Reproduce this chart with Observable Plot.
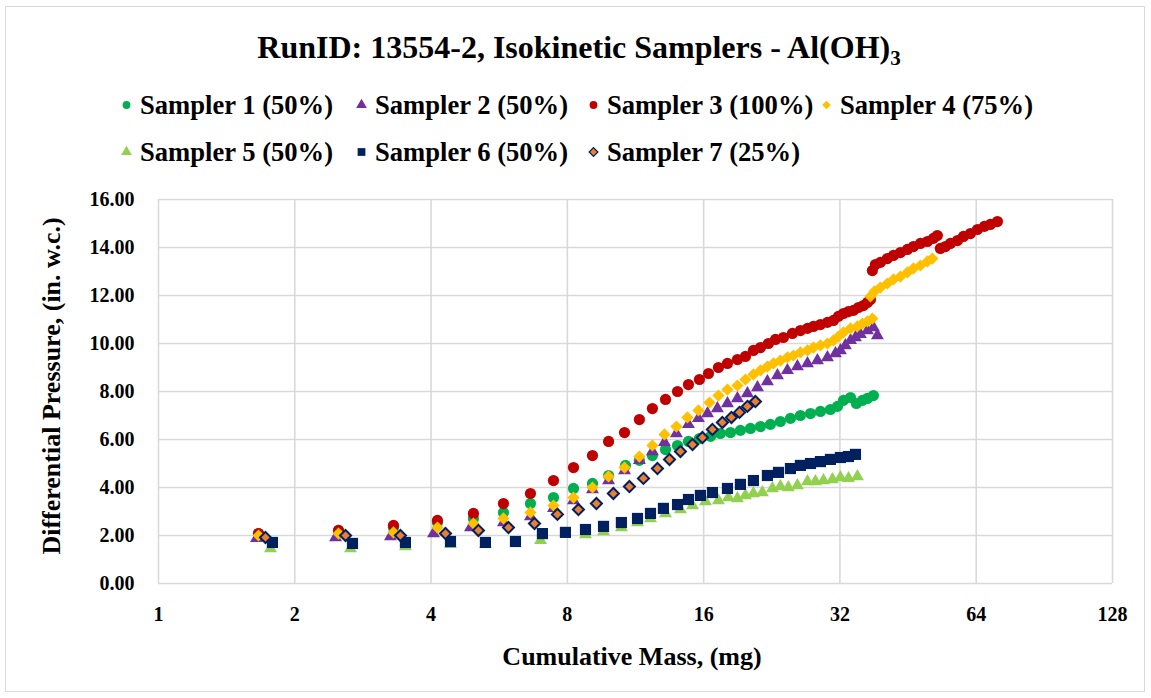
<!DOCTYPE html>
<html><head><meta charset="utf-8">
<script src="https://cdn.jsdelivr.net/npm/d3@7"></script>
<script src="https://cdn.jsdelivr.net/npm/@observablehq/plot@0.6"></script>
<style>
body{margin:0;background:#fff;font-family:"Liberation Serif","Times New Roman",serif;font-weight:bold;color:#000}
#wrap{position:relative;width:1151px;height:698px;overflow:hidden;background:#fff}
#border{position:absolute;left:5px;top:6px;width:1138px;height:684px;border:1px solid #d9d9d9}
#title{position:absolute;left:0;top:27px;width:1158px;text-align:center;font-size:32px;line-height:40px;white-space:nowrap}
#title sub{font-size:21px;vertical-align:-7px;line-height:0}
.leg{position:absolute;display:flex;align-items:center;font-size:26.6px;line-height:30px;white-space:nowrap}
.leg svg{margin-right:8px;flex:none}
#chart{position:absolute;left:0;top:170px}
#ytitle{position:absolute;left:52px;top:386px;transform:translate(-50%,-50%) rotate(-90deg);font-size:26px;white-space:nowrap}
#xtitle{position:absolute;left:632px;top:657px;transform:translate(-50%,-50%);font-size:26px;white-space:nowrap}
</style></head>
<body>
<div id="wrap">
  <div id="border"></div>
  <div id="title">RunID: 13554-2, Isokinetic Samplers - Al(OH)<sub>3</sub></div>
  <div id="legend"></div>
  <div id="chart"></div>
  <div id="ytitle">Differential Pressure, (in. w.c.)</div>
  <div id="xtitle">Cumulative Mass, (mg)</div>
</div>
<script>
const xTicks = [1, 2, 4, 8, 16, 32, 64, 128];
const yTicks = [0, 2, 4, 6, 8, 10, 12, 14, 16];

const sampler1 = [[1.663,2.08],[2.498,2.21],[3.304,2.33],[4.132,2.54],[4.962,2.71],[5.78,2.96],[6.63,3.33],[7.455,3.58],[8.253,3.96],[9.09,4.17],[9.865,4.5],[10.75,4.92],[11.54,5.13],[12.33,5.33],[13.18,5.58],[14.01,5.75],[14.81,5.92],[15.66,6.04],[16.57,6.13],[17.42,6.25],[18.34,6.29],[19.29,6.38],[20.3,6.46],[21.36,6.54],[22.47,6.63],[23.64,6.75],[24.88,6.88],[26.17,7.0],[27.55,7.08],[28.98,7.17],[30.49,7.25],[31.6,7.38],[32.58,7.63],[33.77,7.75],[34.8,7.5],[35.87,7.63],[36.8,7.71],[37.94,7.83]];

const sampler2 = [[1.646,1.88],[2.461,1.92],[3.254,1.96],[4.05,2.08],[4.887,2.33],[5.78,2.54],[6.63,2.79],[7.455,3.13],[8.253,3.46],[9.09,3.92],[9.865,4.29],[10.7,4.71],[11.54,5.13],[12.33,5.5],[13.11,5.88],[13.93,6.25],[14.81,6.63],[15.58,6.88],[16.32,7.08],[17.16,7.29],[18.06,7.5],[19.0,7.71],[19.99,7.92],[21.04,8.17],[22.13,8.42],[23.29,8.67],[24.5,8.88],[25.78,9.04],[27.13,9.17],[28.54,9.29],[30.03,9.42],[31.28,9.58],[32.08,9.71],[32.9,9.92],[33.77,10.13],[34.63,10.25],[35.51,10.38],[36.8,10.54],[37.94,10.67],[38.72,10.33]];

const sampler3 = [[1.663,2.08],[2.498,2.21],[3.304,2.42],[4.132,2.63],[4.962,2.92],[5.78,3.33],[6.63,3.75],[7.455,4.29],[8.253,4.83],[9.09,5.33],[9.865,5.92],[10.7,6.29],[11.54,6.83],[12.33,7.29],[13.18,7.67],[14.01,8.0],[14.81,8.29],[15.66,8.5],[16.4,8.75],[17.25,9.0],[18.06,9.17],[19.0,9.33],[19.79,9.46],[20.61,9.71],[21.36,9.83],[22.24,10.0],[23.06,10.17],[24.0,10.25],[25.13,10.42],[26.17,10.54],[27.13,10.63],[27.97,10.71],[28.98,10.79],[30.03,10.88],[30.96,10.96],[31.75,11.13],[32.58,11.25],[33.42,11.33],[34.29,11.38],[35.16,11.5],[36.05,11.58],[36.8,11.71],[37.37,11.83],[37.74,13.04],[38.33,13.29],[39.31,13.38],[40.73,13.54],[42.01,13.67],[43.53,13.79],[45.1,13.92],[46.5,14.04],[48.19,14.17],[49.93,14.25],[51.47,14.38],[52.52,14.5],[53.33,13.96],[54.72,14.04],[56.14,14.17],[58.17,14.29],[59.97,14.46],[62.13,14.58],[64.4,14.75],[66.71,14.88],[68.78,14.96],[71.29,15.08]];

const sampler4 = [[1.663,2.0],[2.498,2.08],[3.304,2.13],[4.132,2.33],[4.962,2.5],[5.78,2.71],[6.63,2.96],[7.455,3.25],[8.253,3.58],[9.09,4.0],[9.865,4.46],[10.7,4.83],[11.54,5.29],[12.33,5.75],[13.11,6.21],[13.93,6.54],[14.73,6.92],[15.58,7.21],[16.48,7.54],[17.25,7.83],[18.06,8.08],[19.0,8.25],[19.79,8.5],[20.61,8.71],[21.36,8.88],[22.13,9.04],[22.82,9.17],[23.64,9.29],[24.5,9.42],[25.26,9.5],[26.17,9.63],[27.13,9.71],[27.97,9.83],[28.98,9.92],[30.03,10.0],[30.96,10.13],[31.75,10.29],[32.58,10.46],[33.77,10.63],[34.98,10.71],[35.87,10.83],[36.8,10.92],[37.74,11.04],[37.37,11.96],[38.14,12.17],[39.31,12.33],[40.73,12.5],[42.01,12.67],[43.53,12.79],[45.1,12.96],[46.5,13.13],[48.19,13.25],[49.93,13.42],[51.2,13.54]];

const sampler5 = [[1.768,1.46],[2.655,1.46],[3.511,1.54],[4.415,1.63],[5.274,1.63],[6.98,1.8],[8.772,2.04],[9.615,2.17],[10.53,2.33],[11.43,2.54],[12.21,2.71],[13.18,2.92],[14.22,3.08],[15.12,3.25],[16.15,3.42],[17.25,3.46],[18.15,3.58],[19.0,3.54],[19.79,3.67],[20.61,3.75],[21.57,3.79],[22.7,3.96],[23.64,4.04],[24.62,4.0],[25.78,4.08],[27.13,4.25],[28.25,4.25],[29.43,4.29],[30.8,4.33],[32.08,4.42],[33.42,4.38],[34.98,4.46]];

const sampler6 = [[1.785,1.71],[2.682,1.67],[3.511,1.71],[4.415,1.75],[5.274,1.71],[6.144,1.75],[7.047,2.08],[7.922,2.13],[8.772,2.25],[9.615,2.38],[10.53,2.54],[11.43,2.71],[12.21,2.92],[13.04,3.13],[14.01,3.29],[14.81,3.5],[15.74,3.67],[16.73,3.79],[18.06,3.96],[19.29,4.13],[20.61,4.29],[22.13,4.5],[23.41,4.63],[24.88,4.79],[26.17,4.92],[27.55,5.0],[28.98,5.08],[30.49,5.17],[32.08,5.25],[33.42,5.29],[34.63,5.38]];

const sampler7 = [[1.723,1.92],[2.589,2.0],[3.423,2.0],[4.304,2.08],[5.09,2.21],[5.93,2.33],[6.769,2.5],[7.606,2.88],[8.464,3.08],[9.275,3.33],[10.11,3.75],[10.97,4.04],[11.78,4.38],[12.65,4.79],[13.45,5.17],[14.22,5.5],[15.12,5.79],[15.9,6.08],[16.73,6.42],[17.6,6.71],[18.43,6.92],[19.2,7.13],[19.99,7.38],[20.82,7.58]];

const seriesNames = ["Sampler 1 (50%)","Sampler 2 (50%)","Sampler 3 (100%)","Sampler 4 (75%)","Sampler 5 (50%)","Sampler 6 (50%)","Sampler 7 (25%)"];
const seriesData = [sampler1, sampler2, sampler3, sampler4, sampler5, sampler6, sampler7];
const seriesFill = ["#00b050","#7030a0","#c00000","#ffc000","#92d050","#002060","#ed7d31"];
const seriesSymbol = ["circle","triangle","circle","diamond2","triangle","square","diamond2"];
const seriesR = [5.6, 4.8, 5.6, 5.5, 4.8, 6.3, 5.0];
const seriesStroke = [null,null,null,null,null,null,"#002060"];

const dots = seriesData.map((data, i) => Plot.dot(data, {
  x: d => d[0], y: d => d[1],
  symbol: seriesSymbol[i], fill: seriesFill[i], r: seriesR[i],
  stroke: seriesStroke[i] || "none", strokeWidth: seriesStroke[i] ? 2 : 0
}));

const chart = Plot.plot({
  width: 1151, height: 528,
  marginLeft: 158, marginRight: 39, marginTop: 29, marginBottom: 115,
  style: {fontFamily: "'Liberation Serif', 'Times New Roman', serif", fontWeight: "bold", fontSize: "20px", color: "#000", background: "transparent", overflow: "visible"},
  x: {type: "log", base: 2, domain: [1, 128]},
  y: {domain: [0, 16]},
  marks: [
    Plot.gridX(xTicks, {stroke: "#d9d9d9", strokeOpacity: 1, strokeWidth: 1.6}),
    Plot.gridY(yTicks, {stroke: "#d9d9d9", strokeOpacity: 1, strokeWidth: 1.6}),
    Plot.axisX(xTicks, {tickSize: 0, tickPadding: 23, label: null, tickFormat: d => String(d), fontSize: 20}),
    Plot.axisY(yTicks, {tickSize: 0, tickPadding: 24, label: null, tickFormat: d3.format(".2f"), fontSize: 20}),
    ...dots
  ]
});
document.getElementById("chart").appendChild(chart);

// legend
const legPos = [[121,90],[356,90],[588,90],[821,90],[121,137],[356,137],[588,137]];
const legend = document.getElementById("legend");
seriesNames.forEach((name, i) => {
  const item = document.createElement("div");
  item.className = "leg";
  item.style.left = legPos[i][0] + "px";
  item.style.top = legPos[i][1] + "px";
  const sym = d3.symbol(seriesSymbol[i] === "circle" ? d3.symbolCircle :
                        seriesSymbol[i] === "triangle" ? d3.symbolTriangle :
                        seriesSymbol[i] === "square" ? d3.symbolSquare : d3.symbolDiamond2,
                        seriesSymbol[i] === "square" ? 60 : seriesSymbol[i] === "triangle" ? 50 : 48)();
  const svg = d3.create("svg").attr("width", 11).attr("height", 12).attr("viewBox", "-5.5 -6 11 12");
  svg.append("path").attr("d", sym).attr("fill", seriesFill[i])
     .attr("stroke", seriesStroke[i] || "none").attr("stroke-width", seriesStroke[i] ? 1.3 : 0);
  item.appendChild(svg.node());
  const t = document.createElement("span");
  t.textContent = name;
  item.appendChild(t);
  legend.appendChild(item);
});
</script>
</body></html>
